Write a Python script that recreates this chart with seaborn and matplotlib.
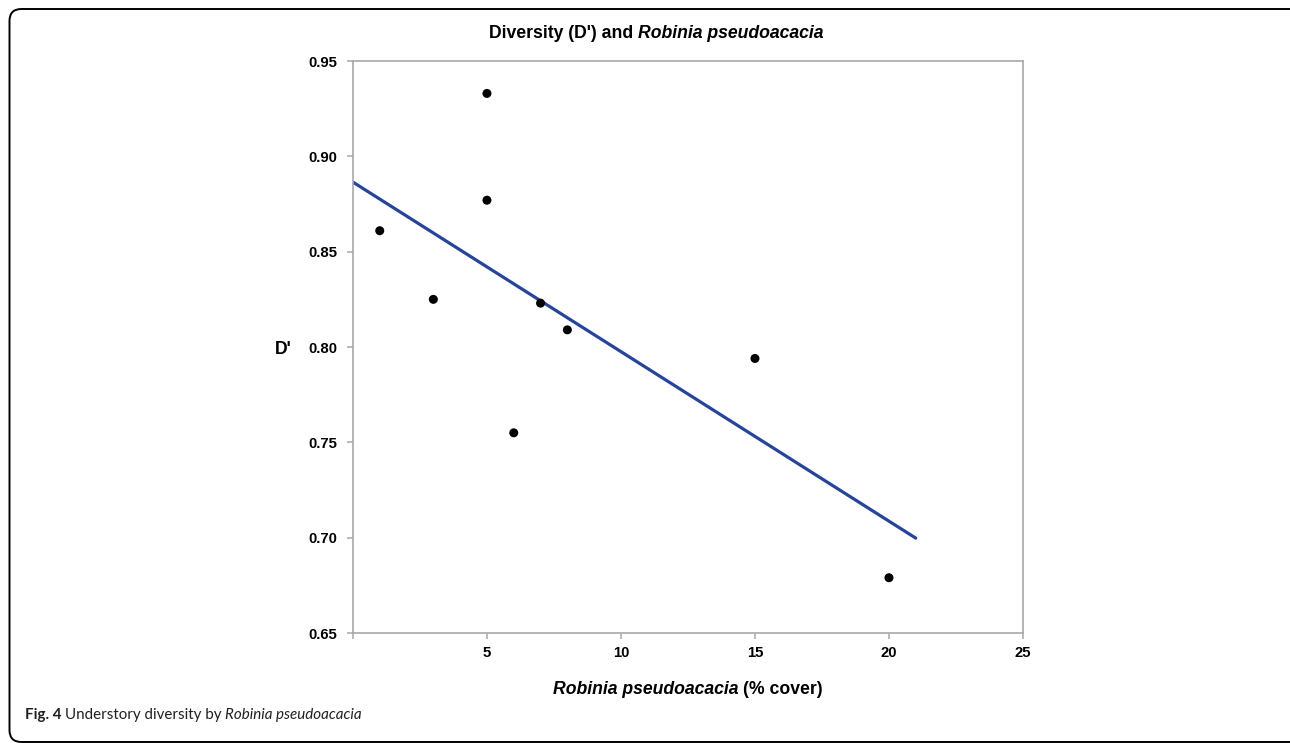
import numpy as np
import pandas as pd
import seaborn as sns
import matplotlib.pyplot as plt
from matplotlib.patches import FancyBboxPatch
from matplotlib.transforms import IdentityTransform

# data
cover = [1, 3, 5, 5, 6, 7, 8, 15, 20]
diversity = [0.861, 0.825, 0.933, 0.877, 0.755, 0.823, 0.809, 0.794, 0.679]
fit_range = [0, 21]
x_ticks = [0, 5, 10, 15, 20, 25]
x_tick_labels = ["", "5", "10", "15", "20", "25"]
y_ticks = [0.65, 0.70, 0.75, 0.80, 0.85, 0.90, 0.95]

sns.set_theme(style="white")
plt.rcParams['font.family'] = ['Liberation Sans', 'DejaVu Sans']

GREY = "#A8A8A8"
BLUE = "#27449C"

fig = plt.figure(figsize=(12.9, 7.43), dpi=100)
ax = fig.add_axes([0.2736, 0.148, 0.5194, 0.7699])

df = pd.DataFrame({"cover": cover, "D": diversity})
slope, intercept = np.polyfit(df["cover"], df["D"], 1)
fit = pd.DataFrame({"cover": fit_range})
fit["D"] = intercept + slope * fit["cover"]

sns.lineplot(data=fit, x="cover", y="D", color=BLUE, lw=2.3, ax=ax)
sns.scatterplot(data=df, x="cover", y="D", color="black", s=42,
                edgecolor="none", ax=ax, zorder=3)

ax.set_xlim(0, 25)
ax.set_ylim(0.65, 0.95)
ax.set_xticks(x_ticks)
ax.set_xticklabels(x_tick_labels)
ax.set_yticks(y_ticks)
ax.set_yticklabels([f"{v:.2f}" for v in y_ticks])
ax.set_xlabel("")
ax.set_ylabel("")
for s in ax.spines.values():
    s.set_color(GREY)
    s.set_linewidth(1.2)
ax.tick_params(axis="both", bottom=True, left=True, direction="out",
               length=4.3, width=1.1, color=GREY, labelsize=10.7,
               labelcolor="black")
ax.tick_params(axis="y", pad=7)
ax.tick_params(axis="x", pad=5)
plt.setp(ax.get_xticklabels() + ax.get_yticklabels(), fontweight="bold")

renderer = fig.canvas.get_renderer()


def width_of(s, kw):
    t = fig.text(0, 0, s, transform=IdentityTransform(), **kw)
    w = t.get_window_extent(renderer).width
    t.remove()
    return w


def rich_text(pieces, x, y, ha="center"):
    # pieces of text with their own styles, joined by a space
    widths = [width_of(s, kw) for s, kw in pieces]
    gaps = [width_of("a a", kw) - width_of("aa", kw) for s, kw in pieces]
    total = sum(widths) + sum(gaps[1:])
    cur = x - total / 2 if ha == "center" else x
    for i, (s, kw) in enumerate(pieces):
        if i > 0:
            cur += gaps[i]
        fig.text(cur, y, s, transform=IdentityTransform(), ha="left",
                 va="baseline", **kw)
        cur += widths[i]


H = 743
bold = dict(fontsize=12.7, fontweight="bold", color="black")
bold_it = dict(fontsize=12.7, fontweight="bold", style="italic", color="black")

rich_text([("Diversity (D') and", bold), ("Robinia pseudoacacia", bold_it)],
          656, H - 38)
rich_text([("Robinia pseudoacacia", bold_it), ("(% cover)", bold)],
          688, H - 694)
fig.text(283, H - 349, "D'", transform=IdentityTransform(), ha="center",
         va="center", **bold)

cap = dict(fontsize=10.9, color="#231F20", family=["Lato", "DejaVu Sans"])
rich_text([("Fig. 4", dict(cap, fontweight="bold")),
           ("Understory diversity by", cap),
           ("Robinia pseudoacacia", dict(cap, style="italic"))],
          25, H - 719, ha="left")

# rounded frame around the figure
frame = FancyBboxPatch((0.095, 0.01), 13.2, 7.33,
                       boxstyle="round,pad=0,rounding_size=0.12",
                       transform=fig.dpi_scale_trans, fill=False,
                       edgecolor="black", lw=1.4, clip_on=False)
fig.patches.append(frame)

fig.savefig("out.png", dpi=100)
